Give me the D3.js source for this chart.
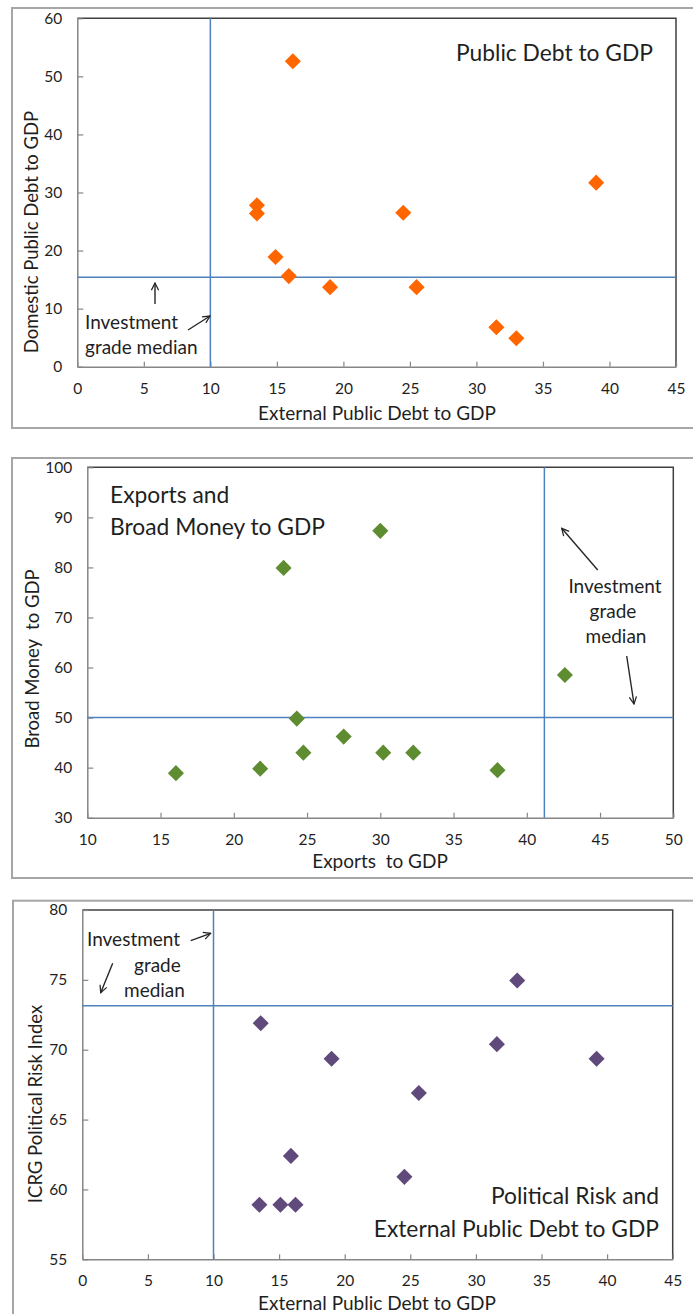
<!DOCTYPE html>
<html>
<head>
<meta charset="utf-8">
<script src="https://cdn.jsdelivr.net/npm/d3@7/dist/d3.min.js"></script>
<style>
  html, body { margin: 0; padding: 0; background: #fff; }
  svg { display: block; }
  text { font-family: Lato, "Open Sans", sans-serif; fill: #1f1f1f; white-space: pre; }
</style>
</head>
<body>
<svg id="chart" width="693" height="1314"></svg>
<script>
// ---------- DATA ----------
// Panel 1: Public Debt to GDP
const extDebt1 = [16.2, 13.5, 13.5, 14.9, 15.9, 19.0, 24.5, 25.5, 31.5, 33.0, 39.0];
const domDebt1 = [52.6, 27.8, 26.4, 18.9, 15.6, 13.7, 26.5, 13.7, 6.8, 4.9, 31.7];
const median1 = [10, 15.4];          // [x, y] investment grade median
const xTicks1 = [0, 5, 10, 15, 20, 25, 30, 35, 40, 45];
const yTicks1 = [0, 10, 20, 30, 40, 50, 60];

// Panel 2: Exports and Broad Money to GDP
const exports2 = [16.05, 21.8, 23.4, 24.3, 24.75, 27.5, 30.0, 30.2, 32.25, 38.0, 42.6];
const broadMoney2 = [38.9, 39.8, 79.9, 49.8, 43.0, 46.2, 87.3, 43.0, 43.0, 39.5, 58.5];
const median2 = [41.2, 50];
const xTicks2 = [10, 15, 20, 25, 30, 35, 40, 45, 50];
const yTicks2 = [30, 40, 50, 60, 70, 80, 90, 100];

// Panel 3: Political Risk and External Public Debt to GDP
const extDebt3 = [13.6, 19.0, 15.9, 13.5, 15.1, 16.25, 33.15, 31.6, 39.2, 25.65, 24.55];
const riskIdx3 = [71.9, 69.35, 62.4, 58.9, 58.9, 58.9, 74.95, 70.4, 69.35, 66.9, 60.9];
const median3 = [10, 73.15];
const xTicks3 = [0, 5, 10, 15, 20, 25, 30, 35, 40, 45];
const yTicks3 = [55, 60, 65, 70, 75, 80];

// ---------- DRAW ----------
const svg = d3.select("#chart");
const defs = svg.append("defs");
defs.append("marker")
  .attr("id", "arrow").attr("viewBox", "0 0 10 10")
  .attr("refX", 9).attr("refY", 5)
  .attr("markerWidth", 9).attr("markerHeight", 9)
  .attr("markerUnits", "userSpaceOnUse")
  .attr("orient", "auto")
  .append("path").attr("d", "M1,1 L9,5 L1,9")
  .attr("fill", "none").attr("stroke", "#262626").attr("stroke-width", 1.4);

const diamond = d3.symbol().type(d3.symbolDiamond2).size(165);
const blue = "#4F81BD";

function panel(cfg) {
  const g = svg.append("g");
  // outer frame
  g.append("rect")
    .attr("x", cfg.frame[0]).attr("y", cfg.frame[1])
    .attr("width", cfg.frame[2]).attr("height", cfg.frame[3])
    .attr("fill", "none").attr("stroke", "#A6A6A6").attr("stroke-width", 2);

  const x = d3.scaleLinear().domain(cfg.xDomain).range([cfg.plot.l, cfg.plot.r]);
  const y = d3.scaleLinear().domain(cfg.yDomain).range([cfg.plot.b, cfg.plot.t]);

  // plot border (top / right dark)
  g.append("path")
    .attr("d", `M${cfg.plot.l},${cfg.plot.t} H${cfg.plot.r} V${cfg.plot.b}`)
    .attr("fill", "none").attr("stroke", "#404040").attr("stroke-width", 1.5);

  // axes
  const xa = g.append("g").attr("transform", `translate(0,${cfg.plot.b})`)
    .call(d3.axisBottom(x).tickValues(cfg.xTicks).tickSizeInner(-5).tickSizeOuter(0).tickPadding(16));
  const ya = g.append("g").attr("transform", `translate(${cfg.plot.l},0)`)
    .call(d3.axisLeft(y).tickValues(cfg.yTicks).tickSizeInner(-6).tickSizeOuter(0).tickPadding(15));
  [xa, ya].forEach(a => {
    a.select(".domain").attr("stroke", "#868686").attr("stroke-width", 1.5);
    a.selectAll(".tick line").attr("stroke", "#868686").attr("stroke-width", 1.2);
    a.selectAll(".tick text").style("font-family", "Lato, sans-serif")
      .style("font-size", "15.5px").attr("fill", "#1f1f1f");
  });

  // median lines
  g.append("line")
    .attr("x1", x(cfg.median[0])).attr("x2", x(cfg.median[0]))
    .attr("y1", cfg.plot.t).attr("y2", cfg.plot.b)
    .attr("stroke", blue).attr("stroke-width", 1.5);
  g.append("line")
    .attr("x1", cfg.plot.l).attr("x2", cfg.plot.r)
    .attr("y1", y(cfg.median[1])).attr("y2", y(cfg.median[1]))
    .attr("stroke", blue).attr("stroke-width", 1.5);

  // points
  g.selectAll("path.pt").data(cfg.xs.map((v, i) => [v, cfg.ys[i]]))
    .enter().append("path").attr("class", "pt")
    .attr("d", diamond)
    .attr("transform", d => `translate(${x(d[0])},${y(d[1])})`)
    .attr("fill", cfg.color);

  // axis titles
  g.append("text").attr("x", cfg.xTitle[1]).attr("y", cfg.xTitle[2])
    .attr("text-anchor", "middle").style("font-size", "19px").text(cfg.xTitle[0]);
  g.append("text")
    .attr("transform", `translate(${cfg.yTitle[1]},${cfg.yTitle[2]}) rotate(-90)`)
    .attr("text-anchor", "middle").attr("dominant-baseline", "central")
    .style("font-size", "18.5px").text(cfg.yTitle[0]);

  // titles
  cfg.title.forEach(t => {
    g.append("text").attr("x", t[1]).attr("y", t[2]).attr("text-anchor", t[3])
      .style("font-size", "22.8px").text(t[0]);
  });
  // annotations
  cfg.notes.forEach(t => {
    g.append("text").attr("x", t[1]).attr("y", t[2]).attr("text-anchor", t[3])
      .style("font-size", "19px").text(t[0]);
  });
  cfg.arrows.forEach(a => {
    g.append("line").attr("x1", a[0]).attr("y1", a[1]).attr("x2", a[2]).attr("y2", a[3])
      .attr("stroke", "#262626").attr("stroke-width", 1.4).attr("marker-end", "url(#arrow)");
  });
}

panel({
  frame: [12, 8, 700, 420],
  plot: { l: 77.3, r: 676, t: 18.3, b: 366.7 },
  xDomain: [0, 45], yDomain: [0, 60],
  xTicks: xTicks1, yTicks: yTicks1,
  xs: extDebt1, ys: domDebt1, median: median1, color: "#FF6600",
  xTitle: ["External Public Debt to GDP", 377, 420],
  yTitle: ["Domestic Public Debt to GDP", 31, 232],
  title: [["Public Debt to GDP", 653, 61, "end"]],
  notes: [["Investment", 85, 329, "start"], ["grade median", 85, 354, "start"]],
  arrows: [[155, 304, 155, 283], [188, 330, 210, 316]]
});

panel({
  frame: [12, 458, 700, 420],
  plot: { l: 87.3, r: 673.3, t: 467.3, b: 817.7 },
  xDomain: [10, 50], yDomain: [30, 100],
  xTicks: xTicks2, yTicks: yTicks2,
  xs: exports2, ys: broadMoney2, median: median2, color: "#5E8C31",
  xTitle: ["Exports  to GDP", 380, 868],
  yTitle: ["Broad Money  to GDP", 32, 659],
  title: [["Exports and", 110, 502.7, "start"], ["Broad Money to GDP", 110, 535, "start"]],
  notes: [["Investment", 615, 592.7, "middle"], ["grade", 613, 618, "middle"], ["median", 616, 643, "middle"]],
  arrows: [[597.7, 570, 561.7, 528.3], [626.7, 656, 634, 704]]
});

panel({
  frame: [13, 900.7, 700, 440],
  plot: { l: 82.3, r: 672.7, t: 910, b: 1259.3 },
  xDomain: [0, 45], yDomain: [55, 80],
  xTicks: xTicks3, yTicks: yTicks3,
  xs: extDebt3, ys: riskIdx3, median: median3, color: "#604A7B",
  xTitle: ["External Public Debt to GDP", 377, 1310],
  yTitle: ["ICRG Political Risk Index", 34.5, 1104],
  title: [["Political Risk and", 659, 1204.3, "end"], ["External Public Debt to GDP", 659, 1236.7, "end"]],
  notes: [["Investment", 87, 946, "start"], ["grade", 134, 971.7, "start"], ["median", 124, 996.7, "start"]],
  arrows: [[190.7, 940.7, 210.7, 933.3], [112.7, 963.3, 100.7, 992.7]]
});
</script>
</body>
</html>
